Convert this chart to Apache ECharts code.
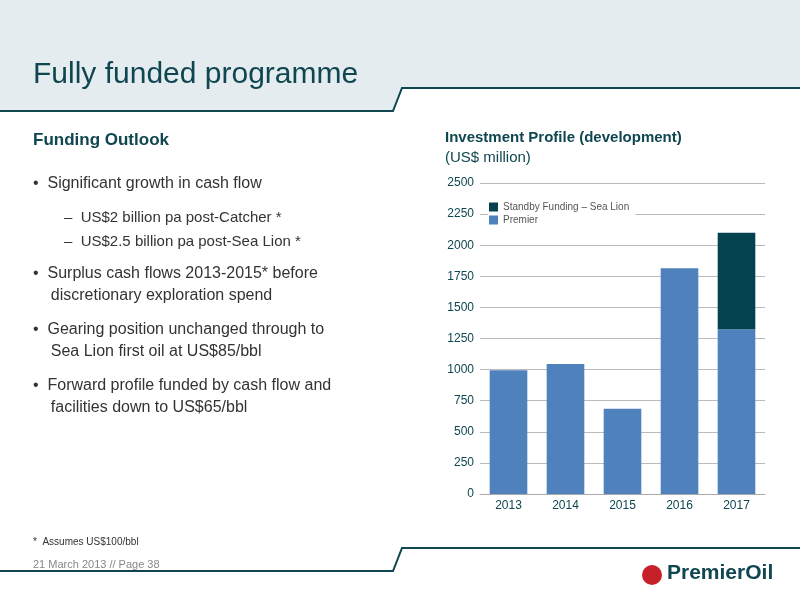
<!DOCTYPE html>
<html>
<head>
<meta charset="utf-8">
<script src="https://cdn.jsdelivr.net/npm/echarts@6/dist/echarts.min.js"></script>
<style>html,body{margin:0;padding:0;background:#fff}#main{width:800px;height:600px}</style>
</head>
<body>
<div id="main"></div>
<script>
var years = ['2013', '2014', '2015', '2016', '2017'];
var premier = [995, 1045, 685, 1815, 1325];
var standby = [0, 0, 0, 0, 775];
var yTicks = [0, 250, 500, 750, 1000, 1250, 1500, 1750, 2000, 2250, 2500];

var chart = echarts.init(document.getElementById('main'));
var teal = '#0f4650';
var txt = '#333333';
var font = 'Liberation Sans';

var bullets = [
    {y: 186, t: '•  Significant growth in cash flow', s: 16},
    {y: 220, t: '–  US$2 billion pa post-Catcher *', s: 15, x: 64},
    {y: 244, t: '–  US$2.5 billion pa post-Sea Lion *', s: 15, x: 64},
    {y: 276, t: '•  Surplus cash flows 2013-2015* before', s: 16},
    {y: 298, t: '    discretionary exploration spend', s: 16},
    {y: 332, t: '•  Gearing position unchanged through to', s: 16},
    {y: 354, t: '    Sea Lion first oil at US$85/bbl', s: 16},
    {y: 388, t: '•  Forward profile funded by cash flow and', s: 16},
    {y: 410, t: '    facilities down to US$65/bbl', s: 16}
];
var graphics = [
    {type: 'polygon', shape: {points: [[0,0],[800,0],[800,88],[402,88],[393,111],[0,111]]}, style: {fill: '#e4ecef'}, z: -10},
    {type: 'polyline', shape: {points: [[0,111],[393,111],[402,88],[800,88]]}, style: {stroke: teal, lineWidth: 2, fill: null}},
    {type: 'polyline', shape: {points: [[0,571],[393,571],[402,548],[800,548]]}, style: {stroke: teal, lineWidth: 2, fill: null}},
    {type: 'text', left: 33, top: 60, style: {text: 'Fully funded programme', fill: teal, font: '30px ' + font}},
    {type: 'text', left: 33, top: 132, style: {text: 'Funding Outlook', fill: teal, font: 'bold 17px ' + font}},
    {type: 'text', left: 445, top: 130, style: {text: 'Investment Profile (development)', fill: teal, font: 'bold 15px ' + font}},
    {type: 'text', left: 445, top: 150, style: {text: '(US$ million)', fill: teal, font: '15px ' + font}},
    {type: 'text', left: 33, top: 537, style: {text: '*  Assumes US$100/bbl', fill: txt, font: '10px ' + font}},
    {type: 'text', left: 33, top: 559, style: {text: '21 March 2013 // Page 38', fill: '#888', font: '11px ' + font}},
    {type: 'circle', shape: {cx: 652, cy: 575, r: 10}, style: {fill: '#c8202a'}},
    {type: 'text', left: 667, top: 563, style: {text: 'PremierOil', fill: teal, font: 'bold 21px ' + font}}
];
bullets.forEach(function (b) {
    graphics.push({type: 'text', left: b.x || 33, top: b.y - 10, style: {text: b.t, fill: txt, font: b.s + 'px ' + font}});
});

var option = {
    animation: false,
    graphic: graphics,
    grid: {left: 480, right: 35, top: 183, bottom: 106},
    legend: {
        data: ['Standby Funding – Sea Lion', 'Premier'],
        orient: 'vertical', left: 488, top: 201, itemWidth: 9, itemHeight: 9, itemGap: 3,
        icon: 'rect', backgroundColor: '#fff', padding: [1, 6, 1, 1],
        textStyle: {fontSize: 10, color: '#555', fontFamily: font}
    },
    xAxis: {
        type: 'category', data: years,
        axisLine: {lineStyle: {color: '#aaa'}}, axisTick: {show: false},
        axisLabel: {color: teal, fontSize: 12, fontFamily: font, margin: 6}
    },
    yAxis: {
        type: 'value', min: yTicks[0], max: yTicks[yTicks.length - 1], interval: 250,
        axisLine: {show: false}, axisTick: {show: false},
        splitLine: {lineStyle: {color: '#bbb'}},
        axisLabel: {color: teal, fontSize: 12, fontFamily: font, margin: 6, formatter: function (v) { return String(v); }}
    },
    series: [
        {name: 'Premier', type: 'bar', stack: 'a', data: premier, barWidth: '66%', itemStyle: {color: '#4f81bd'}},
        {name: 'Standby Funding – Sea Lion', type: 'bar', stack: 'a', data: standby, itemStyle: {color: '#04424f'}}
    ]
};
chart.setOption(option);
</script>
</body>
</html>
